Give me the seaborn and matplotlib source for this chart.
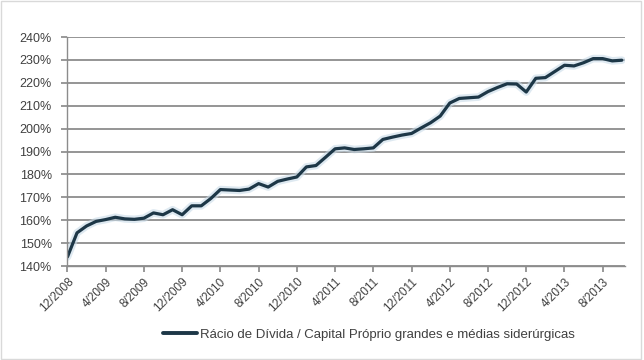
import matplotlib
matplotlib.use("Agg")
import matplotlib.pyplot as plt
import matplotlib.patches as mpatches
from matplotlib.ticker import FuncFormatter
import seaborn as sns
import pandas as pd

# Monthly debt / equity ratio, 12/2008 .. 10/2013 (percent)
months = [
    "12/2008", "1/2009", "2/2009", "3/2009", "4/2009", "5/2009", "6/2009", "7/2009",
    "8/2009", "9/2009", "10/2009", "11/2009", "12/2009", "1/2010", "2/2010", "3/2010",
    "4/2010", "5/2010", "6/2010", "7/2010", "8/2010", "9/2010", "10/2010", "11/2010",
    "12/2010", "1/2011", "2/2011", "3/2011", "4/2011", "5/2011", "6/2011", "7/2011",
    "8/2011", "9/2011", "10/2011", "11/2011", "12/2011", "1/2012", "2/2012", "3/2012",
    "4/2012", "5/2012", "6/2012", "7/2012", "8/2012", "9/2012", "10/2012", "11/2012",
    "12/2012", "1/2013", "2/2013", "3/2013", "4/2013", "5/2013", "6/2013", "7/2013",
    "8/2013", "9/2013", "10/2013",
]
ratio = [
    144.0, 154.5, 157.5, 159.5, 160.3, 161.3, 160.6, 160.4,
    160.9, 163.2, 162.4, 164.6, 162.4, 166.3, 166.3, 169.5,
    173.4, 173.2, 173.0, 173.6, 176.0, 174.5, 177.0, 178.0,
    178.9, 183.3, 183.9, 187.5, 191.2, 191.6, 190.9, 191.2,
    191.6, 195.3, 196.3, 197.2, 197.9, 200.3, 202.6, 205.5,
    211.2, 213.2, 213.5, 213.8, 216.2, 218.0, 219.6, 219.5,
    216.0, 222.0, 222.3, 225.0, 227.7, 227.4, 228.8, 230.6,
    230.6, 229.6, 229.9,
]
y_ticks = [140, 150, 160, 170, 180, 190, 200, 210, 220, 230, 240]
series_name = "Rácio de Dívida / Capital Próprio grandes e médias siderúrgicas"

sns.set_theme(style="white")
plt.rcParams["font.family"] = ["Liberation Sans", "DejaVu Sans"]

df = pd.DataFrame({"pos": range(len(months)), "month": months, "ratio": ratio})

fig = plt.figure(figsize=(6.44, 3.6), dpi=100)
fig.patch.set_facecolor("white")
fig.patches.append(mpatches.Rectangle((0.002, 0.003), 0.994, 0.994, transform=fig.transFigure,
                                      fill=False, edgecolor="#d9d9d9", linewidth=1.0))
ax = fig.add_axes([0.104, 0.261, 0.866, 0.636])

line_color = "#1d3747"
sns.lineplot(data=df, x="pos", y="ratio", ax=ax, color="#c9dbe8", linewidth=5.5,
             alpha=0.6, legend=False)
sns.lineplot(data=df, x="pos", y="ratio", ax=ax, color=line_color, linewidth=2.3,
             legend=False)

ax.set_ylim(y_ticks[0], y_ticks[-1])
ax.set_yticks(y_ticks)
ax.yaxis.set_major_formatter(FuncFormatter(lambda v, _: f"{v:.0f}%"))
ax.set_xlim(-0.05, len(months) - 1 + 0.3)
tick_pos = list(range(0, len(months), 4))
ax.set_xticks(tick_pos)
ax.set_xticklabels([months[i] for i in tick_pos], rotation=45, ha="right",
                   rotation_mode="anchor", fontsize=8.5, color="#404040")
ax.tick_params(axis="y", labelsize=9, labelcolor="#404040", length=4, color="#8c8c8c",
               left=True, pad=7)
ax.tick_params(axis="x", length=4, color="#8c8c8c", bottom=True, pad=3)
ax.set_xlabel("")
ax.set_ylabel("")

ax.grid(axis="y", color="#8c8c8c", linewidth=1.3)
ax.grid(axis="x", visible=False)
ax.set_axisbelow(True)
for side in ("top", "right"):
    ax.spines[side].set_visible(False)
ax.spines["left"].set_color("#8c8c8c")
ax.spines["bottom"].set_color("#8c8c8c")
ax.spines["left"].set_linewidth(1.0)
ax.spines["bottom"].set_linewidth(1.0)

handle = plt.Line2D([], [], color=line_color, linewidth=2.8)
fig.legend([handle], [series_name], loc="center", bbox_to_anchor=(0.573, 0.07),
           frameon=False, fontsize=9.5, handlelength=2.6, handletextpad=0.2,
           labelcolor="#404040")

fig.savefig("out.png", dpi=100)
